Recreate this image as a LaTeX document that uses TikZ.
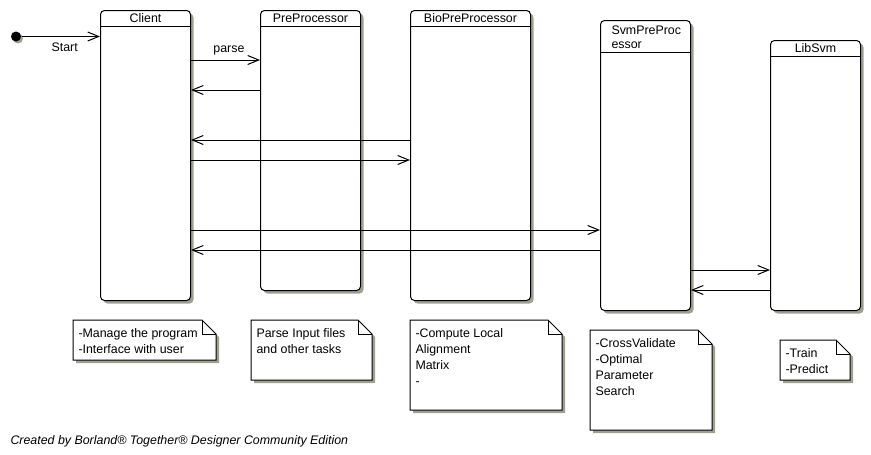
\documentclass[tikz,border=0pt]{standalone}
\usepackage{fontspec}
\setmainfont{Liberation Sans}
\usetikzlibrary{positioning,shadows,arrows.meta}
\definecolor{shadowgray}{RGB}{160,160,146}

\begin{document}
\begin{tikzpicture}[x=1pt, y=-1pt, line width=1pt,
  every node/.style={font=\fontsize{12.4}{16}\selectfont},
  >={Straight Barb[length=11pt,width=9pt]},
  lifeline/.style={draw, fill=white, rounded corners=4pt, anchor=north west, inner sep=0pt,
    drop shadow={shadow xshift=3pt, shadow yshift=-3pt, fill=shadowgray, opacity=1}},
  title/.style={anchor=base, inner sep=0pt},
  notetext/.style={anchor=north west, align=left, inner sep=0pt}]
  \useasboundingbox (0,0) rectangle (871,455);
  % lifelines
  \node[lifeline, minimum width=90, minimum height=290] (client) at (100,10) {};
  \node[lifeline, minimum width=100, minimum height=280] (pre) at (260,10) {};
  \node[lifeline, minimum width=120, minimum height=290] (bio) at (410,10) {};
  \node[lifeline, minimum width=90, minimum height=290] (svm) at (600,20) {};
  \node[lifeline, minimum width=90, minimum height=270] (libsvm) at (770,40) {};
  \foreach \obj/\hy in {client/26, pre/26, bio/26, svm/52, libsvm/56}
    \draw (\obj.west |- 0,\hy) -- (\obj.east |- 0,\hy);
  \node[title] (clientname) at (client.north |- 0,22) {Client};
  \node[title] (prename) at (pre.north |- 0,22) {PreProcessor};
  \node[title] (bioname) at (bio.north |- 0,22) {BioPreProcessor};
  \node[title, anchor=north west, align=left, font=\fontsize{12.4}{14}\selectfont] (svmname) at (611,25.5) {SvmPreProc\\essor};
  \node[title] (libsvmname) at (libsvm.north |- 0,52.5) {LibSvm};
  % initial state
  \node[circle, fill=black, minimum size=10, inner sep=0pt,
    drop shadow={shadow xshift=2pt, shadow yshift=-2pt, fill=shadowgray, opacity=1}] (init) at (16,36.5) {};
  \draw[->] (init) -- (client.west |- init) node[pos=0.55, below=3pt] (startlbl) {Start};
  % messages
  \draw[->] (client.east |- 0,60) -- (pre.west |- 0,60) node[pos=0.55, above=1pt] (parselbl) {parse};
  \foreach \from/\to/\my in {pre.west/client.east/90, bio.west/client.east/140,
      client.east/bio.west/160, client.east/svm.west/230, svm.west/client.east/250,
      svm.east/libsvm.west/270, libsvm.west/svm.east/290}
    \draw[->] (\from |- 0,\my) -- (\to |- 0,\my);
  % notes
  \foreach \nx/\ny/\nw/\nh/\ntext [count=\i] in {
      73/320/143/40/{-Manage the program\\-Interface with user},
      251/320/121/60/{Parse Input files\\and other tasks},
      410/320/152/90/{-Compute Local\\Alignment\\Matrix\\-},
      590/330/122/100/{-CrossValidate\\-Optimal\\Parameter\\Search},
      780/340/70/40/{-Train\\-Predict}}{
    \fill[shadowgray, shift={(3,3)}] (\nx,\ny) -- (\nx+\nw-14,\ny) -- (\nx+\nw,\ny+14) -- (\nx+\nw,\ny+\nh) -- (\nx,\ny+\nh) -- cycle;
    \filldraw[fill=white] (\nx,\ny) -- (\nx+\nw-14,\ny) -- (\nx+\nw,\ny+14) -- (\nx+\nw,\ny+\nh) -- (\nx,\ny+\nh) -- cycle;
    \draw (\nx+\nw-14,\ny) |- (\nx+\nw,\ny+14);
    \node[notetext] (note\i) at (\nx+5,\ny+8.5) {\ntext};
  }
  \node[anchor=base west, inner sep=0pt, font=\fontsize{12.4}{14}\selectfont\itshape] (credit) at (10,444)
    {Created by Borland® Together® Designer Community Edition};
\end{tikzpicture}
\end{document}
